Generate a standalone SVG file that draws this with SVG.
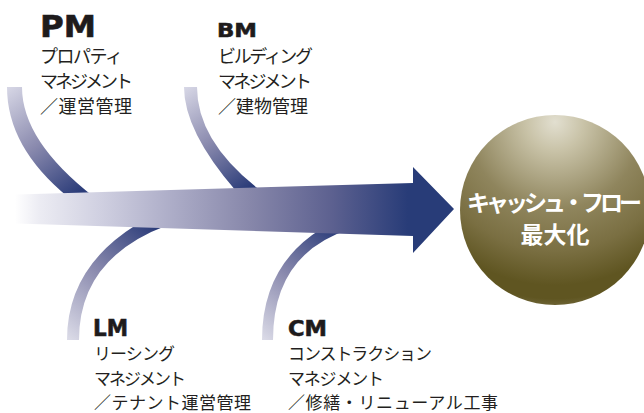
<svg xmlns="http://www.w3.org/2000/svg" width="644" height="413" viewBox="0 0 644 413">
<style>
.lbl{font-family:"DejaVu Sans","Liberation Sans",sans-serif;font-weight:bold;fill:#1e1b1c;stroke:#1e1b1c;stroke-width:0.6}
.jp{font-family:"Noto Sans CJK JP",sans-serif;font-size:18px;fill:#231f20}
.jps{font-size:17px}
.wt{font-family:"Noto Sans CJK JP",sans-serif;font-weight:bold;font-size:23px;fill:#ffffff}
</style>
<defs>
<linearGradient id="shaft" gradientUnits="userSpaceOnUse" x1="15" y1="0" x2="420" y2="0">
<stop offset="0" stop-color="#ffffff"/>
<stop offset="0.06" stop-color="#ececf3"/>
<stop offset="0.21" stop-color="#d0d0e1"/>
<stop offset="0.37" stop-color="#b0b0ca"/>
<stop offset="0.58" stop-color="#8787aa"/>
<stop offset="0.78" stop-color="#5d6190"/>
<stop offset="0.97" stop-color="#283c78"/>
</linearGradient>
<linearGradient id="gPM" gradientUnits="userSpaceOnUse" x1="5" y1="90" x2="80" y2="192">
<stop offset="0" stop-color="#d6d6e5"/>
<stop offset="0.5" stop-color="#8a8aae"/>
<stop offset="1" stop-color="#2b3c79"/>
</linearGradient>
<linearGradient id="gBM" gradientUnits="userSpaceOnUse" x1="182" y1="90" x2="248" y2="188">
<stop offset="0" stop-color="#d6d6e5"/>
<stop offset="0.5" stop-color="#8a8aae"/>
<stop offset="1" stop-color="#2b3c79"/>
</linearGradient>
<linearGradient id="gLM" gradientUnits="userSpaceOnUse" x1="160" y1="230" x2="68" y2="340">
<stop offset="0" stop-color="#2b3c79"/>
<stop offset="0.5" stop-color="#8a8aae"/>
<stop offset="1" stop-color="#dcdce8"/>
</linearGradient>
<linearGradient id="gCM" gradientUnits="userSpaceOnUse" x1="342" y1="234" x2="262" y2="340">
<stop offset="0" stop-color="#2b3c79"/>
<stop offset="0.5" stop-color="#8a8aae"/>
<stop offset="1" stop-color="#dcdce8"/>
</linearGradient>
<radialGradient id="ball" gradientUnits="userSpaceOnUse" cx="555" cy="122" r="190" fx="555" fy="122">
<stop offset="0" stop-color="#e2dfd0"/>
<stop offset="0.15" stop-color="#c9c3a8"/>
<stop offset="0.46" stop-color="#8f855d"/>
<stop offset="0.68" stop-color="#7a6f42"/>
<stop offset="0.86" stop-color="#5f5521"/>
<stop offset="0.93" stop-color="#5f5521"/>
<stop offset="1" stop-color="#7a7148"/>
</radialGradient>
</defs>
<rect width="644" height="413" fill="#ffffff"/>
<g id="connectors">
<path d="M7,87 Q7,147 68,197 L94,197 Q22,141 22,87 Z" fill="url(#gPM)"/>
<path d="M184,87 Q184,131 236,191 L261,191 Q197,142 197,87 Z" fill="url(#gBM)"/>
<path d="M136,225 Q67,268 67,340 L79,340 Q79,258 168,225 Z" fill="url(#gLM)"/>
<path d="M321,229 Q262,266 262,340 L273,340 Q273,254 350,229 Z" fill="url(#gCM)"/>
<path d="M0,195 L413,183 L413,167 L454,209 L413,253 L413,236 L0,223 Z" fill="url(#shaft)"/>
</g>
<g id="node-pm">
<text class="lbl" x="40" y="37" font-size="30" textLength="56" lengthAdjust="spacingAndGlyphs">PM</text>
<text class="jp" x="40" y="63" textLength="83">プロパティ</text>
<text class="jp" x="40" y="88" textLength="93">マネジメント</text>
<text class="jp" x="40" y="113" textLength="92">／運営管理</text>
</g>
<g id="node-bm">
<text class="lbl" x="217" y="37" font-size="20" textLength="40" lengthAdjust="spacingAndGlyphs">BM</text>
<text class="jp" x="218" y="63" textLength="95">ビルディング</text>
<text class="jp" x="218" y="88" textLength="94">マネジメント</text>
<text class="jp" x="218" y="113" textLength="90">／建物管理</text>
</g>
<g id="node-lm">
<text class="lbl" x="93" y="336" font-size="23" textLength="35" lengthAdjust="spacingAndGlyphs">LM</text>
<text class="jp jps" x="94" y="360" textLength="81">リーシング</text>
<text class="jp jps" x="94" y="384.5" textLength="92">マネジメント</text>
<text class="jp jps" x="94" y="408.5" textLength="157">／テナント運営管理</text>
</g>
<g id="node-cm">
<text class="lbl" x="288" y="336" font-size="21" textLength="39" lengthAdjust="spacingAndGlyphs">CM</text>
<text class="jp jps" x="288" y="360" textLength="144">コンストラクション</text>
<text class="jp jps" x="288" y="384.5" textLength="96">マネジメント</text>
<text class="jp jps" x="288" y="408.5" textLength="210">／修繕・リニューアル工事</text>
</g>
<g id="node-goal">
<circle cx="555" cy="210" r="95" fill="url(#ball)"/>
<text class="wt" x="467" y="211" textLength="175">キャッシュ・フロー</text>
<text class="wt" x="555" y="243" text-anchor="middle">最大化</text>
</g>
</svg>
